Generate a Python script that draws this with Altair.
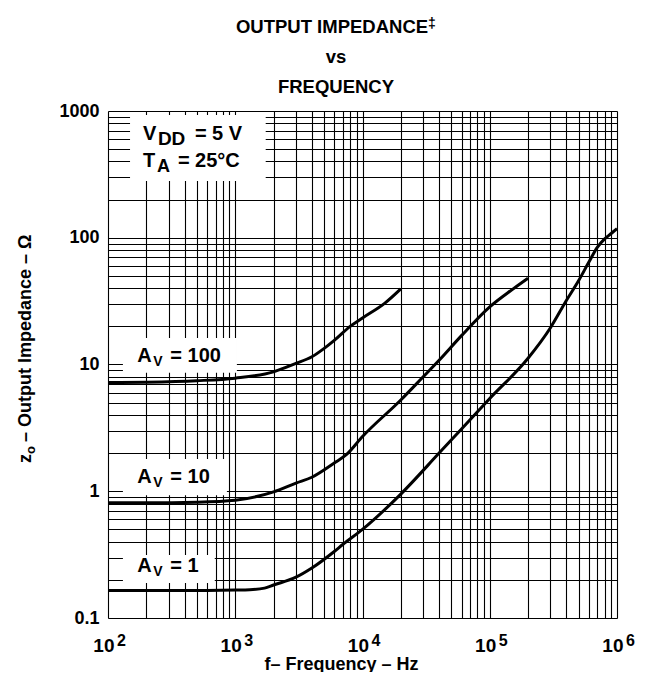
import altair as alt
import pandas as pd

FONT = "Liberation Sans"

# ---------------- data ----------------
F100 = [100, 200, 500, 1000, 2000, 3000, 4000, 5000, 6000, 8000, 10000, 15000, 20000]
Z100 = [7.2, 7.25, 7.45, 7.8, 8.75, 10.2, 11.5, 13.4, 15.5, 20.0, 23.3, 30.5, 39.5]

F10 = [100, 200, 500, 1000, 2000, 3000, 4000, 6000, 7500, 10000, 20000, 30000,
       40000, 60000, 100000, 150000, 200000]
Z10 = [0.81, 0.81, 0.82, 0.85, 0.99, 1.16, 1.29, 1.67, 1.95, 2.7, 5.25, 8.0,
       10.8, 16.9, 28.5, 39.0, 48.0]

F1 = [100, 200, 500, 1000, 1300, 1700, 2000, 3000, 4000, 6000, 7000, 10000, 20000,
      40000, 60000, 100000, 200000, 300000, 400000, 500000, 600000, 700000,
      800000, 900000, 1000000]
Z1 = [0.165, 0.165, 0.165, 0.166, 0.167, 0.172, 0.182, 0.21, 0.248, 0.335, 0.38, 0.5,
      0.95, 2.0, 3.1, 5.4, 11.2, 19.5, 32.0, 46.0, 64.0, 84.0, 98.0, 108.0, 118.0]

X_DECADES = [100, 1000, 10000, 100000, 1000000]
X_BASE = "10"
X_EXP = ["2", "3", "4", "5", "6"]
Y_DECADES = [0.1, 1, 10, 100, 1000]
Y_LABELS = ["0.1", "1", "10", "100", "1000"]

X_GRID = [m * 10 ** e for e in range(2, 6) for m in range(1, 10)] + [1000000]
Y_GRID = [round(m * 10.0 ** e, 6) for e in range(-1, 3) for m in range(1, 10)] + [1000]

# white label boxes (frequency left/right, impedance top/bottom)
BOX_F1 = [149, 131, 131, 131]
BOX_F2 = [1735, 1030, 860, 690]
BOX_Z1 = [930, 16.2, 1.80, 0.314]
BOX_Z2 = [280, 8.6, 0.93, 0.189]

# curve labels: anchor (frequency, impedance) and text pieces
AV_F = [170, 170, 170]
AV_Z = [10.5, 1.16, 0.23]
AV_MAIN = ["A", "A", "A"]
AV_SUB = ["V", "V", "V"]
AV_REST = ["= 100", "= 10", "= 1"]

COND_F = [188, 188]
COND_Z = [590, 361]
COND_MAIN = ["V", "T"]
COND_SUB = ["DD", "A"]
COND_REST = ["= 5 V", "= 25°C"]
COND_SUB_DX = [15, 14]
COND_SUB_SIZE = [19, 18]
COND_REST_DX = [52, 35]

TITLE = ["OUTPUT IMPEDANCE", "vs", "FREQUENCY"]
TITLE_MARK = "‡"
TITLE_Y = [-78, -48, -18]
X_TITLE = "f– Frequency – Hz"
Y_TITLE_MAIN = "z"
Y_TITLE_SUB = "o"
Y_TITLE_REST = "– Output Impedance – Ω"

W, H = 509, 507

# ---------------- build ----------------
curves = pd.DataFrame(
    {"f": F100 + F10 + F1,
     "z": Z100 + Z10 + Z1,
     "curve": ["100"] * len(F100) + ["10"] * len(F10) + ["1"] * len(F1)}
)

XS = alt.Scale(type="log", domain=[100, 1000000], nice=False)
YS = alt.Scale(type="log", domain=[0.1, 1000], nice=False)

x_label_expr = "indexof(%s, datum.value) >= 0 ? '%s' : ''" % (
    "[" + ",".join(str(v) for v in X_DECADES) + "]", X_BASE)
y_label_expr = ""
for v, lab in zip(Y_DECADES, Y_LABELS):
    y_label_expr += "datum.value == %s ? '%s' : " % (v, lab)
y_label_expr += "''"

x_axis = alt.Axis(
    values=X_GRID, labelExpr=x_label_expr, grid=True, gridColor="black",
    gridOpacity=1, gridWidth=1.1, domain=False, ticks=False, tickSize=0,
    labelFont=FONT, labelFontSize=19, labelFontWeight="bold", labelColor="black",
    labelAlign="right", labelOffset=6, labelPadding=33, labelOverlap=False,
    labelFlush=False, labelBaseline="alphabetic",
    title=X_TITLE, titleFont=FONT, titleFontSize=18, titleFontWeight="bold",
    titleColor="black", titleX=233, titleY=51, titleBaseline="alphabetic",
    titleAlign="center",
)
y_axis = alt.Axis(
    values=Y_GRID, labelExpr=y_label_expr, grid=True, gridColor="black",
    gridOpacity=1, gridWidth=1.1, domain=False, ticks=False, tickSize=0,
    labelFont=FONT, labelFontSize=18, labelFontWeight="bold", labelColor="black",
    labelPadding=9, labelOverlap=False, labelFlush=False, labelBaseline="middle",
    title="",
)


def X(field):
    return alt.X(field, type="quantitative", scale=XS, axis=x_axis)


def Y(field):
    return alt.Y(field, type="quantitative", scale=YS, axis=y_axis)


boxes = alt.Chart(pd.DataFrame({"f": BOX_F1, "f2": BOX_F2, "z": BOX_Z1, "z2": BOX_Z2})).mark_rect(
    fill="white", strokeWidth=0
).encode(x=X("f"), x2="f2:Q", y=Y("z"), y2="z2:Q")

lines = alt.Chart(curves).mark_line(color="black", strokeWidth=3, interpolate="monotone").encode(
    x=X("f"), y=Y("z"), detail="curve:N",
)

layers = [boxes, lines]


def txt(df, field, size, dx=0, dy=0, align="left"):
    return alt.Chart(df).mark_text(
        font=FONT, fontSize=size, fontWeight="bold", color="black",
        align=align, baseline="alphabetic", dx=dx, dy=dy,
    ).encode(x=X("f"), y=Y("z"), text=field + ":N")


av = pd.DataFrame({"f": AV_F, "z": AV_Z, "m": AV_MAIN, "s": AV_SUB, "r": AV_REST})
layers += [txt(av, "m", 20), txt(av, "s", 14, dx=16, dy=4), txt(av, "r", 20, dx=33)]

for i in range(len(COND_MAIN)):
    d = pd.DataFrame({"f": [COND_F[i]], "z": [COND_Z[i]], "m": [COND_MAIN[i]],
                      "s": [COND_SUB[i]], "r": [COND_REST[i]]})
    layers += [txt(d, "m", 20), txt(d, "s", COND_SUB_SIZE[i], dx=COND_SUB_DX[i], dy=5),
               txt(d, "r", 20, dx=COND_REST_DX[i])]

# exponents of the x tick labels
exp_df = pd.DataFrame({"f": X_DECADES, "e": X_EXP})
layers.append(
    alt.Chart(exp_df).mark_text(
        font=FONT, fontSize=16, fontWeight="bold", color="black",
        align="left", baseline="alphabetic", dx=9,
    ).encode(x=X("f"), y=alt.value(H + 28), text="e:N")
)

# y axis title with subscript, rotated
yt = pd.DataFrame({"t": [Y_TITLE_MAIN], "s": [Y_TITLE_SUB], "r": [Y_TITLE_REST]})
for field, size, dx, dy in [("t", 18, 0, 0), ("s", 13, 9, 4), ("r", 18, 21, 0)]:
    layers.append(
        alt.Chart(yt).mark_text(
            font=FONT, fontSize=size, fontWeight="bold", color="black",
            align="left", baseline="alphabetic", angle=270, dx=dx, dy=dy,
        ).encode(x=alt.value(-77), y=alt.value(352), text=field + ":N")
    )

# chart title (three centred lines) and the raised double dagger
TITLE_X = [224, 228, 228]
for line, tx, ty in zip(TITLE, TITLE_X, TITLE_Y):
    layers.append(
        alt.Chart(pd.DataFrame({"t": [line]})).mark_text(
            font=FONT, fontSize=18.5, fontWeight="bold", color="black",
            align="center", baseline="alphabetic",
        ).encode(x=alt.value(tx), y=alt.value(ty), text="t:N")
    )
layers.append(
    alt.Chart(pd.DataFrame({"t": [TITLE_MARK]})).mark_text(
        font=FONT, fontSize=14, fontWeight="bold", color="black",
        align="left", baseline="alphabetic", dy=-5,
    ).encode(x=alt.value(320), y=alt.value(TITLE_Y[0]), text="t:N")
)

chart = alt.layer(*layers).properties(
    width=W, height=H,
    autosize=alt.AutoSizeParams(type="none"),
    padding={"left": 100, "top": 103, "right": 26, "bottom": 54},
).configure_view(stroke="black", strokeWidth=2.5).configure(background="white")

chart.save("out.html", embed_options={"renderer": "svg", "actions": False})
